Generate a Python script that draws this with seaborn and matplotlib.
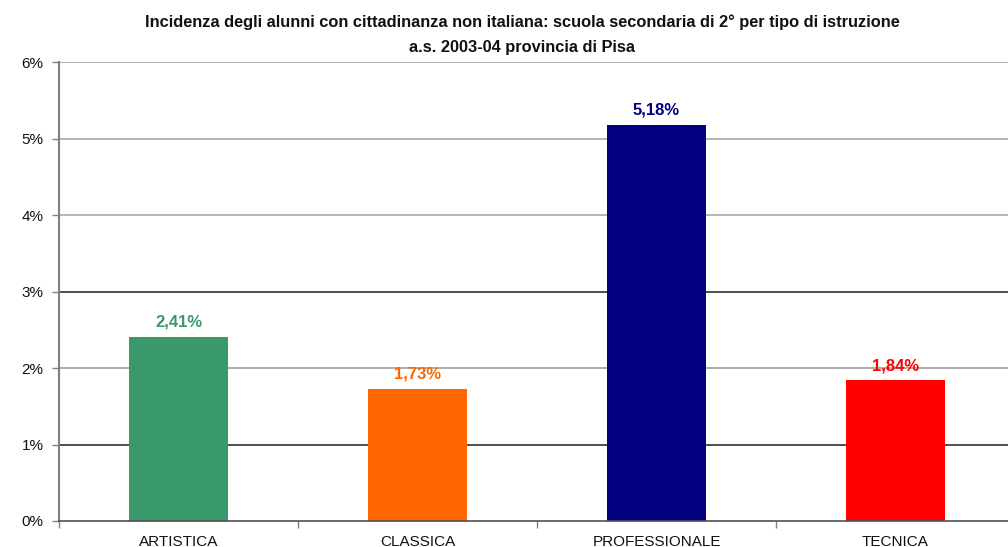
import matplotlib
matplotlib.use("Agg")
import matplotlib.pyplot as plt
import seaborn as sns
import pandas as pd
from matplotlib.ticker import FixedLocator

# Incidence of non-Italian pupils by school type (percent)
categories = ["ARTISTICA", "CLASSICA", "PROFESSIONALE", "TECNICA"]
values = [2.41, 1.73, 5.18, 1.84]
bar_colors = ["#3a996a", "#ff6600", "#000080", "#ff0000"]
y_ticks = [0, 1, 2, 3, 4, 5, 6]
title_lines = [
    "Incidenza degli alunni con cittadinanza non italiana: scuola secondaria di 2° per tipo di istruzione",
    "a.s. 2003-04 provincia di Pisa",
]

sns.set_theme(style="white")
plt.rcParams["font.family"] = ["Liberation Sans", "DejaVu Sans"]

df = pd.DataFrame({"tipo": categories, "pct": values})

fig = plt.figure(figsize=(10.08, 5.47), dpi=100)
ax = fig.add_axes([59 / 1008, 26 / 547, 956 / 1008, 459 / 547])

# Horizontal grid lines drawn beneath the bars
grid_colors = {1: "#303030", 2: "#a0a0a0", 3: "#303030", 4: "#a8a8a8", 5: "#a8a8a8", 6: "#a8a8a8"}
for yv, c in grid_colors.items():
    ax.axhline(yv, color=c, lw=1.2, zorder=0)

sns.barplot(data=df, x="tipo", y="pct", hue="tipo", palette=bar_colors,
            width=0.415, legend=False, ax=ax, saturation=1, zorder=2,
            linewidth=0, edgecolor="none")

ax.set_xlim(-0.5, 3.5)
ax.set_ylim(0, 6)
ax.set_yticks(y_ticks)
ax.set_yticklabels([f"{v}%" for v in y_ticks], fontsize=11)
ax.set_xticks(range(len(categories)))
ax.set_xticklabels(categories, fontsize=11)
ax.xaxis.set_minor_locator(FixedLocator([-0.5, 0.5, 1.5, 2.5]))
ax.tick_params(axis="x", which="major", length=0, pad=10, colors="#111111")
ax.tick_params(axis="x", which="minor", length=5, width=1, color="#808080", direction="out", bottom=True)
ax.tick_params(axis="y", length=5, width=1, color="#808080", direction="out", left=True, pad=6,
               labelcolor="#111111")
ax.set_xlabel("")
ax.set_ylabel("")

for side in ["top", "right"]:
    ax.spines[side].set_visible(False)
ax.spines["left"].set_color("#808080")
ax.spines["left"].set_linewidth(1.5)
ax.spines["bottom"].set_color("#505050")
ax.spines["bottom"].set_linewidth(1.2)

# Value labels above each bar, in the bar's colour
for i, (v, c) in enumerate(zip(values, bar_colors)):
    ax.annotate(f"{v:.2f}%".replace(".", ","), (i, v), xytext=(0, 5), textcoords="offset points",
                ha="center", va="bottom", fontsize=12, fontweight="bold", color=c)

fig.text(522 / 1008, 1 - 22 / 547, title_lines[0], ha="center", va="center",
         fontsize=11.8, fontweight="bold", color="#111111")
fig.text(522 / 1008, 1 - 48 / 547, title_lines[1], ha="center", va="center",
         fontsize=11.8, fontweight="bold", color="#111111")

fig.savefig("out.png", dpi=100)
